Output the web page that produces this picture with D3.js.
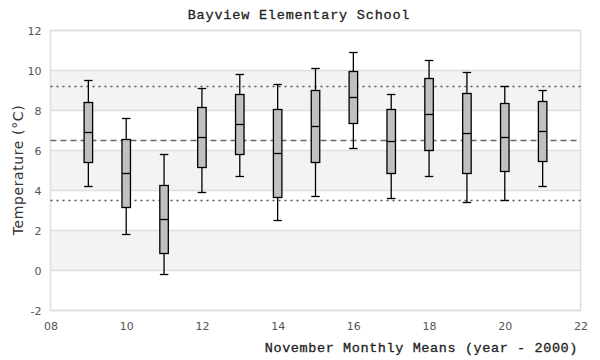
<!DOCTYPE html>
<html><head><meta charset="utf-8">
<script src="https://cdn.jsdelivr.net/npm/d3@7"></script>
<style>body{margin:0;background:#fff}</style>
</head><body><svg id="c" width="600" height="360"></svg>
<script>
const years = [9,10,11,12,13,14,15,16,17,18,19,20,21];
const lows    = [4.2,1.8,-0.2,3.9,4.7,2.5,3.7,6.1,3.6,4.7,3.4,3.5,4.2];
const q1s     = [5.4,3.15,0.85,5.15,5.8,3.65,5.4,7.35,4.85,6.0,4.85,4.95,5.45];
const medians = [6.9,4.85,2.55,6.65,7.3,5.85,7.2,8.65,6.45,7.8,6.85,6.65,6.95];
const q3s     = [8.4,6.55,4.25,8.15,8.8,8.05,9.0,9.95,8.05,9.6,8.85,8.35,8.45];
const highs   = [9.5,7.6,5.8,9.1,9.8,9.3,10.1,10.9,8.8,10.5,9.9,9.2,9.0];
const yTicks = [-2,0,2,4,6,8,10,12];
const xTicks = [8,10,12,14,16,18,20,22];
const refDashed = [6.5];
const refDotted = [9.2,3.5];
const bands = [[8,10],[4,6],[0,2]];

const svg = d3.select("#c");
const L=50.5, R=580.5, T=30.5, B=310.5;
const x = d3.scaleLinear().domain([8,22]).range([L,R]);
const y = d3.scaleLinear().domain([-2,12]).range([B,T]);

svg.append("g").selectAll("rect").data(bands).join("rect")
  .attr("x",L).attr("width",R-L)
  .attr("y",d=>y(d[1])).attr("height",d=>y(d[0])-y(d[1]))
  .attr("fill","#f3f3f3");
svg.append("g").selectAll("line").data(yTicks).join("line")
  .attr("x1",L).attr("x2",R).attr("y1",d=>y(d)).attr("y2",d=>y(d))
  .attr("stroke","#dedede").attr("stroke-width",1.5);
svg.append("rect").attr("x",L).attr("y",T).attr("width",R-L).attr("height",B-T)
  .attr("fill","none").attr("stroke","#dedede").attr("stroke-width",1.5);

const ya = svg.append("g").attr("transform",`translate(${L-6},0)`)
  .call(d3.axisLeft(y).tickValues(yTicks).tickSize(0).tickFormat(d=>String(d)));
ya.select(".domain").remove();
ya.selectAll("text").attr("font-family","DejaVu Sans, sans-serif").attr("font-size",11).attr("fill","#555");
const xa = svg.append("g").attr("transform",`translate(0,${B+9})`)
  .call(d3.axisBottom(x).tickValues(xTicks).tickSize(0).tickFormat(d=>d3.format("02d")(d)));
xa.select(".domain").remove();
xa.selectAll("text").attr("font-family","DejaVu Sans, sans-serif").attr("font-size",11).attr("fill","#555");

svg.append("g").selectAll("line").data(refDashed).join("line")
  .attr("x1",L).attr("x2",R).attr("y1",d=>y(d)).attr("y2",d=>y(d))
  .attr("stroke","#666").attr("stroke-width",1.3).attr("stroke-dasharray","6,4");
svg.append("g").selectAll("line").data(refDotted).join("line")
  .attr("x1",L).attr("x2",R).attr("y1",d=>y(d)).attr("y2",d=>y(d))
  .attr("stroke","#555").attr("stroke-width",1.3).attr("stroke-dasharray","2,4");

const bw = 8.5, cw = 8.5;
const g = svg.append("g").selectAll("g").data(years.map((yr,i)=>({yr,lo:lows[i],q1:q1s[i],md:medians[i],q3:q3s[i],hi:highs[i]}))).join("g");
g.append("line").attr("x1",d=>x(d.yr)).attr("x2",d=>x(d.yr)).attr("y1",d=>y(d.hi)).attr("y2",d=>y(d.lo)).attr("stroke","#000").attr("stroke-width",1.3);
g.append("line").attr("x1",d=>x(d.yr)-cw/2).attr("x2",d=>x(d.yr)+cw/2).attr("y1",d=>y(d.hi)).attr("y2",d=>y(d.hi)).attr("stroke","#000").attr("stroke-width",1.3);
g.append("line").attr("x1",d=>x(d.yr)-cw/2).attr("x2",d=>x(d.yr)+cw/2).attr("y1",d=>y(d.lo)).attr("y2",d=>y(d.lo)).attr("stroke","#000").attr("stroke-width",1.3);
g.append("rect").attr("x",d=>x(d.yr)-bw/2).attr("width",bw).attr("y",d=>y(d.q3)).attr("height",d=>y(d.q1)-y(d.q3))
  .attr("fill","#c0c0c0").attr("stroke","#000").attr("stroke-width",1.3);
g.append("line").attr("x1",d=>x(d.yr)-bw/2).attr("x2",d=>x(d.yr)+bw/2).attr("y1",d=>y(d.md)).attr("y2",d=>y(d.md)).attr("stroke","#000").attr("stroke-width",1.3);

svg.append("text").attr("x",299).attr("y",19).attr("text-anchor","middle")
  .attr("font-family","Liberation Mono, monospace").attr("font-size",13.5).attr("letter-spacing",0.8)
  .attr("fill","#222").attr("stroke","#222").attr("stroke-width",0.3).text("Bayview Elementary School");
svg.append("text").attr("x",578).attr("y",352).attr("text-anchor","end")
  .attr("font-family","Liberation Mono, monospace").attr("font-size",13.5).attr("letter-spacing",0.6)
  .attr("fill","#222").attr("stroke","#222").attr("stroke-width",0.3).text("November Monthly Means (year - 2000)");
svg.append("text").attr("transform","translate(23,170) rotate(-90)").attr("text-anchor","middle")
  .attr("font-family","DejaVu Sans, sans-serif").attr("font-size",14).attr("letter-spacing",0.6)
  .attr("fill","#333").text("Temperature (°C)");
</script></body></html>
